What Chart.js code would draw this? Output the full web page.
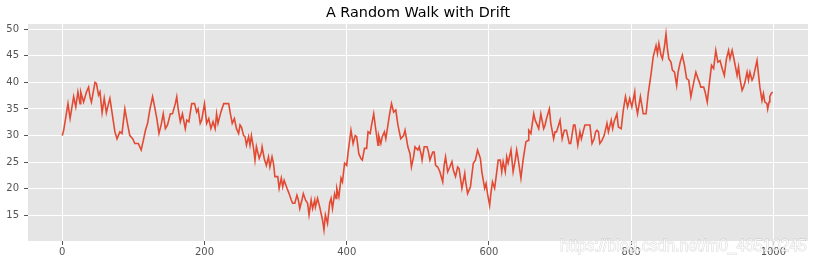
<!DOCTYPE html>
<html>
<head>
<meta charset="utf-8">
<script src="https://cdn.jsdelivr.net/npm/chart.js@4/dist/chart.umd.min.js"></script>
<style>
html,body{margin:0;padding:0;background:#fff;}
#wrap{width:815px;height:265px;}
</style>
</head>
<body>
<div id="wrap"><canvas id="c" width="815" height="265"></canvas></div>
<script>
// ---- data ----
const steps = [
  0,2,8,11,16,19,22,25,26,30,34,37,39,41,46,48,51,53,56,59,62,65,67,70,74,77,81,84,88,92,95,99,102,107,111,114,117,120,
  123,127,129,133,136,139,142,145,148,152,155,159,161,163,166,169,173,175,178,182,186,189,191,194,196,200,203,206,209,212,215,217,219,223,227,230,234,236,239,242,245,248,
  250,252,255,257,259,262,264,266,269,271,273,277,280,281,284,287,290,292,295,297,299,303,305,308,310,312,316,319,322,324,327,330,332,334,337,339,342,345,347,350,352,355,356,359,362,366,368,370,373,376,
  378,380,383,385,386,389,392,394,397,400,402,406,409,412,414,417,420,422,425,428,430,433,435,438,441,444,445,448,450,453,455,458,460,463,466,469,472,474,476,480,482,486,489,491,494,496,
  500,502,505,506,509,513,515,517,521,523,525,528,531,535,537,539,542,545,548,550,553,556,558,562,566,567,570,574,576,578,581,584,588,590,594,596,598,601,603,605,608,611,613,616,618,620,623,
  625,627,631,634,637,639,641,645,648,652,655,656,659,663,665,667,670,673,677,679,681,685,687,691,693,695,698,700,703,706,709,713,715,719,721,725,728,730,733,735,739,742,745,748,750,
  752,754,756,759,762,766,768,772,774,776,780,782,786,789,792,795,798,801,805,806,809,813,815,817,821,824,828,831,835,837,839,842,844,847,849,851,853,856,858,861,864,866,869,872,875,
  878,881,884,888,891,894,896,898,902,904,907,910,913,916,919,922,925,928,931,934,937,939,942,945,949,951,953,956,958,960,963,965,967,970,972,974,977,979,981,984,986,988,991,992,994,995,997,999
];
const positions = [
  30,31,36,33.2,37.3,35.4,38.2,36,38.2,36.3,38.2,39.1,37.3,36.3,40,39.8,37.6,38.2,34.3,37,34.3,36,37,34.3,30.7,29.4,30.7,30.4,35,32,30,29.4,28.5,28.5,27.3,29.1,31,32.3,
  34.8,37.3,36,33.2,30.4,32,34.1,31.3,32,34.1,34.1,36,37.3,35,32.6,34.1,31.3,32.9,32.6,36,36,34.4,35,32.3,32.9,36,32.3,33.2,31.3,32.6,31.3,34.1,32.3,34.4,36,36,36,34.4,32.3,33.2,31.3,30.4,
  32,31.6,30,29.8,28.2,29.8,28.2,30,27.6,25.4,27.9,25.7,26.9,27.9,25.7,24.4,26,24.1,26,24.8,22.3,22.3,20.1,22,20.4,21.6,20.1,19.1,17.9,17.3,17.3,18.8,17.9,16.3,17.9,19.1,17.9,17.3,15.1,17.9,16.3,17.9,16.6,18.2,16.6,14.1,12.3,15.1,13.5,17.3,
  18.2,16.3,19.1,18.2,20.1,18.5,22,21.3,24.8,24.4,26.9,31,28.5,30,29.8,26.6,25.7,25.4,27.6,27.6,30.7,30.4,32,34.1,31,28.2,30,28.5,29.8,30.7,29.4,32,33.8,36,34.4,34.8,32,30.7,29.4,30,31,27.9,26.6,24.1,26,27.9,
  27.3,27.9,26.3,25.4,27.9,27.9,26.9,25.4,26.9,26.9,24.4,24.1,23.2,21.3,24.4,26,23.2,24.1,25.1,23.5,22.3,24.1,23.8,20.1,22.9,21.6,19.1,20.4,22.6,24.8,25.4,27.3,25.7,23.2,20.1,21,19.1,16.9,19.4,21.3,20.1,23.2,25.4,25.4,23.2,25.1,23.2,
  26,24.8,27.3,23.2,25.4,27.3,25.7,22,25.4,28.8,29.1,31,30.4,34.1,32.9,32.3,31.3,34.1,31.3,32,33.2,35,32.3,29.4,30.7,30.7,32,32.9,29.4,31,31,28.5,28.5,32,32,28.2,30.7,29.4,31,32,32,32,28.5,29.4,30.7,
  31,30.7,28.5,29.1,30,32.3,30.7,32.9,31.3,32.6,34.1,31.6,31.3,34.8,37.3,35.4,37,35.4,38.2,36.3,34.1,37.3,35.7,34.1,34.1,37.9,41.6,44.8,46.9,45.4,47.3,45.1,44.4,46.9,49.1,46.3,44.4,43.8,42.3,41.9,39.4,41.9,43.8,45.1,43.2,
  40.7,40.4,37.3,40,41.9,40.7,40,39.1,39.1,38.2,36.3,39.8,43.2,42.6,46,43.8,44.1,42.6,41.3,44.4,46,44.4,46,44.1,41.3,42.9,40.7,38.5,39.1,40,41.9,40.4,41.9,40.4,41,42.3,44.1,41.6,39.1,36.6,37.9,36.3,36,35,36.3,37.3,37.9,38.2
];
const xTickValues = [0, 200, 400, 600, 800, 1000];
const yTickValues = [15, 20, 25, 30, 35, 40, 45, 50];
const chartTitle = 'A Random Walk with Drift';
const watermarkText = 'https://blog.csdn.net/m0_46510245';

const points = steps.map((s, i) => ({ x: s, y: positions[i] }));

const plotBg = {
  id: 'plotBg',
  beforeDraw(chart) {
    const { ctx, chartArea: a } = chart;
    ctx.save();
    ctx.fillStyle = '#E5E5E5';
    ctx.fillRect(a.left, a.top, a.right - a.left, a.bottom - a.top);
    ctx.restore();
  }
};
const axesTitle = {
  id: 'axesTitle',
  afterDraw(chart) {
    const { ctx, chartArea: a } = chart;
    ctx.save();
    ctx.font = '14.4px "DejaVu Sans", sans-serif';
    ctx.fillStyle = '#000';
    ctx.textAlign = 'center';
    ctx.textBaseline = 'middle';
    ctx.fillText(chartTitle, (a.left + a.right) / 2, 13);
    ctx.restore();
  }
};
const watermark = {
  id: 'watermark',
  afterDraw(chart) {
    const ctx = chart.ctx;
    ctx.save();
    ctx.font = '15.8px "Liberation Sans", Arial, sans-serif';
    ctx.textAlign = 'left';
    ctx.textBaseline = 'alphabetic';
    ctx.lineWidth = 0.8;
    ctx.strokeStyle = 'rgba(160,160,160,0.45)';
    ctx.strokeText(watermarkText, 560, 251);
    ctx.fillStyle = 'rgba(255,255,255,0.8)';
    ctx.fillText(watermarkText, 560, 251);
    ctx.restore();
  }
};

const tickFont = { family: '"DejaVu Sans", sans-serif', size: 10 };

new Chart(document.getElementById('c'), {
  type: 'line',
  data: {
    datasets: [{
      data: points,
      borderColor: '#E24A33',
      borderWidth: 1.6,
      pointRadius: 0,
      tension: 0,
      fill: false
    }]
  },
  options: {
    responsive: false,
    animation: false,
    devicePixelRatio: 1,
    layout: { padding: { left: 0, right: 7, top: 24, bottom: 0 } },
    plugins: {
      legend: { display: false },
      tooltip: { enabled: false },
      title: { display: false }
    },
    scales: {
      x: {
        type: 'linear',
        min: -48.2,
        max: 1048.7,
        afterBuildTicks: s => { s.ticks = xTickValues.map(v => ({ value: v })); },
        afterFit: s => { s.height = 24; },
        ticks: { color: '#555555', font: tickFont, padding: 1, maxRotation: 0, autoSkip: false, callback: v => String(v) },
        grid: { color: '#FFFFFF', lineWidth: 1, tickColor: '#555555', tickLength: 4, drawTicks: true },
        border: { display: false }
      },
      y: {
        type: 'linear',
        min: 10.2,
        max: 50.96,
        afterBuildTicks: s => { s.ticks = yTickValues.map(v => ({ value: v })); },
        afterFit: s => { s.width = 28; },
        ticks: { color: '#555555', font: tickFont, padding: 5, autoSkip: false, callback: v => String(v) },
        grid: { color: '#FFFFFF', lineWidth: 1, tickColor: '#555555', tickLength: 4, drawTicks: true },
        border: { display: false }
      }
    }
  },
  plugins: [plotBg, axesTitle, watermark]
});
</script>
</body>
</html>
